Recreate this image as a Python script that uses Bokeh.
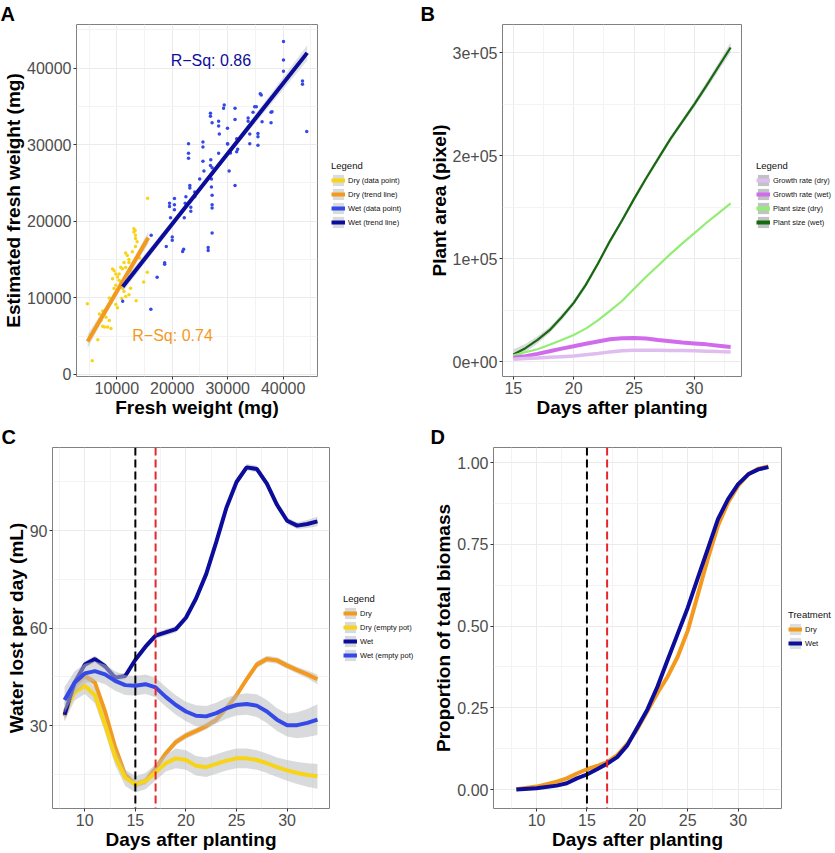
import math
from bokeh.plotting import figure
from bokeh.models import Range1d, FixedTicker, Legend, LegendItem, Span, Title
from bokeh.layouts import column, row
from bokeh.embed import file_html
from bokeh.resources import INLINE
from bokeh.core.properties import value

FONT = "Liberation Sans"
NAN = float("nan")

# ---------------- Panel A data ----------------
dry_pt_x = [4681, 5567, 6572, 15555, 13073, 13073, 13369, 13369, 13664, 13369,
            11596, 11891, 12187, 11300, 11596, 9232, 9527, 9823, 10118, 10414, 9232,
            10709, 11005, 11300, 11596, 12187, 12482, 8641, 8936, 8345, 9823, 10118,
            7458, 7754, 8050, 6867, 7163, 8641, 8345, 8936, 7754, 7458,
            13485, 14551, 14846, 12482, 12187, 10414, 9823, 10709, 15500, 13300,
            11000, 12800, 14100, 9500, 10900, 11900]
dry_pt_y = [9210, 1769, 4500, 22997, 19004, 18584, 18163, 17743, 17322, 16692,
            15851, 15515, 15011, 14590, 13960, 13749, 13539, 13118, 12698, 12278, 12488,
            12067, 11227, 10806, 10176, 10386, 11227, 9966, 9335, 8705, 9125, 8705,
            8284, 7864, 7443, 7864, 7023, 7023, 6182, 5972, 6182, 6266,
            9620, 16271, 12067, 13539, 14590, 13118, 11647, 14000, 13320, 18780,
            13800, 16000, 15200, 11200, 9900, 12900]
wet_pt_x = [40066, 40066, 40066, 43493, 43493, 44261, 35873, 36050, 37822, 37822,
            35460, 35460, 35460, 33983, 33983, 33688, 33688, 34870, 35165, 34575,
            31325, 31325, 31620, 31620, 31325, 29966, 29966, 30261, 29257, 29375,
            28370, 28370, 28488, 26894, 26894, 27190, 28370, 26953, 26894, 27190,
            27072, 27072, 27190, 27190, 27190, 27190, 26480, 26480, 25536, 25536,
            25536, 25713, 24946, 24060, 24060, 23174, 23174, 23351, 23351, 22936,
            22936, 22936, 22344, 22462, 22168, 21873, 22050, 20396, 20396, 20396,
            19510, 19510, 19690, 20000, 20000, 18920, 18630, 18630, 17270, 16200,
            16143, 11063, 30000, 30500, 31800, 36200, 38000]
wet_pt_y = [43491, 41050, 39580, 38320, 37900, 31725, 36640, 36500, 34246, 32860,
            31470, 31050, 29920, 30130, 31390, 33490, 33070, 34960, 34960, 34250,
            34750, 33280, 29080, 30760, 24670, 32145, 30130, 26560, 34750, 35170,
            33070, 32440, 31390, 34120, 33700, 32860, 28870, 28030, 27270, 26980,
            25510, 24460, 23400, 22140, 21720, 18450, 16560, 16180, 29710, 30340,
            27820, 26560, 25510, 23830, 23200, 24670, 24330, 21810, 21300, 30130,
            28870, 28240, 22350, 23200, 20460, 16050, 16340, 22980, 22140, 21510,
            22350, 21930, 20460, 17940, 17520, 16680, 14580, 14370, 12690, 18150,
            8490, 9540, 30100, 28900, 29400, 33000, 34300]
dry_fit_x = [4734, 10204, 15674]
dry_fit_y = [4288, 11060, 17831]
dry_fit_se = [900, 300, 800]
wet_fit_x = [11064, 27704, 44344]
wet_fit_y = [11438, 26716, 41993]
wet_fit_se = [700, 250, 1000]
a_xticks = [10000, 20000, 30000, 40000]
a_yticks = [0, 10000, 20000, 30000, 40000]
a_labels = ["Dry (data point)", "Dry (trend line)", "Wet (data point)", "Wet (trend line)"]

# ---------------- Panel B data ----------------
b_days = list(range(15, 34))
b_size_wet = [6900, 13000, 21000, 30500, 43000, 57000, 74500, 95000, 117000, 137000,
              158000, 178000, 197000, 216000, 233000, 250000, 268000, 286500, 305000]
b_size_dry = [6000, 9000, 12000, 16300, 21000, 25800, 32000, 40000, 49300, 58800,
              70700, 82300, 93300, 104300, 114700, 124700, 134800, 144200, 153600]
b_rate_wet = [3800, 5300, 7500, 10000, 12600, 14800, 17300, 19500, 21700, 22600,
              22900, 22300, 21000, 19800, 18500, 17600, 16700, 15400, 14100]
b_rate_dry = [2200, 2900, 3500, 4100, 4700, 5300, 6600, 7900, 9400, 10400,
              11000, 11000, 11000, 10700, 10700, 10400, 10100, 9700, 9400]
b_size_wet_se = [5000, 4000, 3500, 3000, 3000, 2500, 2500, 2500, 2500, 2500,
                 2500, 2500, 2500, 2500, 2500, 3000, 3500, 4000, 5000]
b_xticks = [15, 20, 25, 30]
b_yticks = [0, 100000, 200000, 300000]
b_ytick_labels = ["0e+00", "1e+05", "2e+05", "3e+05"]
b_labels = ["Growth rate (dry)", "Growth rate (wet)", "Plant size (dry)", "Plant size (wet)"]

# ---------------- Panel C data ----------------
c_days = list(range(8, 34))
c_dry = [32.9, 42.3, 45.3, 43.3, 34.4, 23.5, 15.0, 12.0, 13.0, 17.0, 21.5, 25.0, 27.0,
         28.4, 29.9, 31.9, 35.4, 39.4, 44.3, 48.8, 50.5, 50.1, 48.5, 47.1, 45.8, 44.3]
c_dry_se = [1.5, 1.2, 1, 1, 1, 1, 1, 1, 1, 1, 1, 1, 1, 1, 1, 1, 1, 1, 1, 1, 1, 1, 1, 1, 1.2, 1.5]
c_dry_empty = [34.4, 40.3, 42.3, 39.4, 30.4, 20.5, 14.0, 12.0, 13.0, 15.7, 18.5, 20.0, 19.5,
               17.7, 17.3, 18.3, 19.3, 20.0, 20.0, 19.5, 18.5, 17.3, 16.3, 15.5, 14.9, 14.5]
c_dry_empty_se = [3, 2.5, 2.5, 2.5, 2.5, 2.5, 2.5, 2.5, 2.5, 2.5, 2.5, 3, 3, 3, 3, 3,
                  3, 3, 3, 3, 3, 3, 3.2, 3.4, 3.6, 3.8]
c_wet = [33.4, 43.3, 48.8, 50.5, 48.3, 44.8, 45.3, 50.3, 54.3, 57.7, 58.7, 59.7, 63.2,
         69.1, 76.6, 86.5, 97.0, 104.9, 109.4, 108.9, 104.4, 97.9, 93.0, 91.5, 92.0, 92.8]
c_wet_se = [1.5, 1.2, 1, 1, 1, 1, 1, 1, 1, 1, 1, 1, 1, 1, 1, 1, 1, 1, 1, 1, 1, 1, 1, 1, 1.2, 1.5]
c_wet_empty = [37.9, 43.3, 46.1, 46.8, 45.8, 43.8, 42.5, 42.3, 42.8, 41.8, 38.9, 36.4, 34.4,
               33.1, 32.9, 33.9, 35.4, 36.4, 36.7, 36.2, 34.4, 31.9, 30.2, 30.2, 30.9, 31.9]
c_wet_empty_se = [4, 3.5, 3, 3, 3, 3, 3, 3, 3, 3, 3, 3, 3, 3.2, 3.2, 3.2, 3.2, 3.2,
                  3.3, 3.5, 3.5, 3.5, 3.5, 4, 4.3, 4.7]
c_xticks = [10, 15, 20, 25, 30]
c_yticks = [30, 60, 90]
c_labels = ["Dry", "Dry (empty pot)", "Wet", "Wet (empty pot)"]

# ---------------- Panel D data ----------------
d_days = [8, 10, 12, 13, 14, 15, 16, 17, 18, 19, 20, 21, 22, 23, 24, 25, 26, 27, 28, 29, 30, 31, 32, 33]
d_wet = [0.0, 0.004, 0.012, 0.019, 0.034, 0.046, 0.062, 0.079, 0.099, 0.135, 0.19, 0.245,
         0.315, 0.396, 0.476, 0.556, 0.647, 0.737, 0.827, 0.888, 0.934, 0.964, 0.979, 0.986]
d_dry = [0.001, 0.009, 0.024, 0.034, 0.049, 0.062, 0.072, 0.084, 0.105, 0.14, 0.185, 0.24,
         0.295, 0.345, 0.406, 0.486, 0.596, 0.707, 0.807, 0.878, 0.929, 0.964, 0.981, 0.988]
d_xticks = [10, 15, 20, 25, 30]
d_yticks = [0, 0.25, 0.5, 0.75, 1.0]
d_ytick_labels = ["0.00", "0.25", "0.50", "0.75", "1.00"]
d_labels = ["Dry", "Wet"]

# treatment markers
vline_days = [15, 17]

# ---------------- colours ----------------
GOLD = "#F7D417"
ORANGE = "#F39A1E"
BLUE = "#3548E8"
NAVY = "#0D0D9C"
RIB = "#B8BCC0"


def make_fig(W, H, xr, yr, bl, br, bt, bb):
    p = figure(width=W, height=H, x_range=Range1d(*xr), y_range=Range1d(*yr),
               output_backend="svg", toolbar_location=None,
               min_border_left=bl, min_border_right=br, min_border_top=bt,
               min_border_bottom=bb, background_fill_color="white",
               border_fill_color="white", outline_line_color="#808080",
               outline_line_width=1)
    return p


def style(p, xt, xminor, yt, yminor, xlabel, ylabel):
    xtk = FixedTicker(ticks=xt, minor_ticks=xminor)
    ytk = FixedTicker(ticks=yt, minor_ticks=yminor)
    p.xaxis.ticker = xtk
    p.yaxis.ticker = ytk
    p.xgrid.ticker = xtk
    p.ygrid.ticker = ytk
    for g in (p.xgrid, p.ygrid):
        g.grid_line_color = "#EBEBEB"
        g.grid_line_width = 1
        g.minor_grid_line_color = "#F3F3F3"
        g.minor_grid_line_width = 1
    p.xaxis.axis_label = xlabel
    p.yaxis.axis_label = ylabel
    for ax in (p.xaxis, p.yaxis):
        ax.axis_line_color = None
        ax.major_tick_line_color = "#333333"
        ax.major_tick_out = 3
        ax.major_tick_in = 0
        ax.minor_tick_line_color = None
        ax.major_label_text_font = FONT
        ax.major_label_text_font_size = "16px"
        ax.major_label_text_color = "#4D4D4D"
        ax.major_label_standoff = 1
        ax.axis_label_text_font = FONT
        ax.axis_label_text_font_style = "bold"
        ax.axis_label_text_font_size = "19px"
        ax.axis_label_text_color = "black"
        ax.axis_label_standoff = 0


def letter(p, txt, offset):
    p.title = Title(text=txt, align="left", offset=offset, standoff=0,
                    text_font=FONT, text_font_style="bold", text_font_size="20px",
                    text_color="black")


def legend_fig(W, H, title, labels, colors, bg, vx, vy):
    f = figure(width=W, height=H, x_range=Range1d(0, 1), y_range=Range1d(0, 1),
               output_backend="svg", toolbar_location=None,
               x_axis_type=None, y_axis_type=None,
               min_border_left=0, min_border_right=0, min_border_top=0,
               min_border_bottom=0, outline_line_color=None,
               background_fill_color="white", border_fill_color="white")
    f.grid.visible = False
    items = []
    for l, c in zip(labels, colors):
        r1 = f.varea(x=[NAN, NAN], y1=[NAN, NAN], y2=[NAN, NAN], fill_color=bg, fill_alpha=1)
        r2 = f.line(x=[NAN, NAN], y=[NAN, NAN], line_color=c, line_width=4)
        items.append(LegendItem(label=l, renderers=[r1, r2]))
    lg = Legend(items=items, location=(vx, vy), title=title,
                title_text_font=FONT, title_text_font_size="9.5px", title_text_color="#111111",
                title_text_font_style="normal", title_standoff=2,
                label_text_font=FONT, label_text_font_size="7.5px", label_text_color="#111111",
                glyph_width=14, glyph_height=14, label_height=14, label_standoff=3,
                spacing=0, padding=0, margin=0,
                background_fill_alpha=0, border_line_alpha=0)
    f.add_layout(lg)
    return f


def band(x, y, se):
    lo = [a - b for a, b in zip(y, se)]
    hi = [a + b for a, b in zip(y, se)]
    return lo, hi


# ---------------- Panel A ----------------
pA = make_fig(319, 420, (2730, 46200), (-290, 45700), 72, 2, 13, 42)
letter(pA, "A", -76)
style(pA, a_xticks, [5000, 15000, 25000, 35000, 45000], a_yticks,
      [5000, 15000, 25000, 35000, 45000], "Fresh weight (mg)", "Estimated fresh weight (mg)")
pA.scatter(dry_pt_x, dry_pt_y, size=3.5, color=GOLD, line_color=None)
pA.scatter(wet_pt_x, wet_pt_y, size=3.5, color=BLUE, line_color=None)
lo, hi = band(dry_fit_x, dry_fit_y, dry_fit_se)
pA.varea(x=dry_fit_x, y1=lo, y2=hi, fill_color=RIB, fill_alpha=0.45)
pA.line(dry_fit_x, dry_fit_y, line_color=ORANGE, line_width=4)
lo, hi = band(wet_fit_x, wet_fit_y, wet_fit_se)
pA.varea(x=wet_fit_x, y1=lo, y2=hi, fill_color=RIB, fill_alpha=0.45)
pA.line(wet_fit_x, wet_fit_y, line_color=NAVY, line_width=4)
pA.text(x=[26968], y=[40946], text=["R\u2212Sq: 0.86"], text_font=value(FONT),
        text_font_size="16px", text_color=NAVY, text_align="center", text_baseline="middle")
pA.text(x=[20053], y=[5006], text=["R\u2212Sq: 0.74"], text_font=value(FONT),
        text_font_size="16px", text_color=ORANGE, text_align="center", text_baseline="middle")
lA = legend_fig(96, 420, "Legend", a_labels, [GOLD, ORANGE, BLUE, NAVY], "#DADBDB", 12, 147)

# ---------------- Panel B ----------------
pB = make_fig(328, 420, (14.1, 33.9), (-14500, 327300), 87, 2, 15, 42)
letter(pB, "B", -82)
style(pB, b_xticks, [17.5, 22.5, 27.5, 32.5], b_yticks, [50000, 150000, 250000],
      "Days after planting", "Plant area (pixel)")
pB.yaxis.major_label_overrides = {float(t): l for t, l in zip(b_yticks, b_ytick_labels)}
lo, hi = band(b_days, b_size_wet, b_size_wet_se)
pB.varea(x=b_days, y1=lo, y2=hi, fill_color=RIB, fill_alpha=0.55)
pB.line(b_days, b_size_wet, line_color="#17690F", line_width=2.2)
pB.line(b_days, b_size_dry, line_color="#92EE72", line_width=2.2)
pB.line(b_days, b_rate_wet, line_color="#D06CEC", line_width=4)
pB.line(b_days, b_rate_dry, line_color="#DFBDEE", line_width=3.5)
lB = legend_fig(91, 420, "Legend", b_labels, ["#DFBDEE", "#D06CEC", "#92EE72", "#17690F"],
                "#BFC3C3", 13, 147)

# ---------------- Panel C ----------------
pC = make_fig(331, 432, (6.81, 34.19), (4.6, 115.5), 52, 2, 21, 39)
letter(pC, "C", -51)
style(pC, c_xticks, [7.5, 12.5, 17.5, 22.5, 27.5, 32.5], c_yticks, [15, 45, 75, 105],
      "Days after planting", "Water lost per day (mL)")
for ys, se, col in ((c_dry, c_dry_se, ORANGE), (c_dry_empty, c_dry_empty_se, GOLD),
                    (c_wet, c_wet_se, NAVY), (c_wet_empty, c_wet_empty_se, BLUE)):
    lo, hi = band(c_days, ys, se)
    pC.varea(x=c_days, y1=lo, y2=hi, fill_color=RIB, fill_alpha=0.55)
    pC.line(c_days, ys, line_color=col, line_width=4)
pC.add_layout(Span(location=vline_days[0], dimension="height", line_color="black",
                   line_dash="8 4", line_width=2))
pC.add_layout(Span(location=vline_days[1], dimension="height", line_color="#E8262A",
                   line_dash="8 4", line_width=2))
lC = legend_fig(84, 432, "Legend", c_labels, [ORANGE, GOLD, NAVY, BLUE], "#D8DADC", 12, 146)

# ---------------- Panel D ----------------
pD = make_fig(368, 432, (5.73, 34.3), (-0.058, 1.046), 78, 2, 27, 38)
letter(pD, "D", -63)
style(pD, d_xticks, [7.5, 12.5, 17.5, 22.5, 27.5, 32.5], d_yticks,
      [0.125, 0.375, 0.625, 0.875], "Days after planting", "Proportion of total biomass")
pD.yaxis.major_label_overrides = {float(t): l for t, l in zip(d_yticks, d_ytick_labels)}
pD.line(d_days, d_dry, line_color=ORANGE, line_width=4)
pD.line(d_days, d_wet, line_color=NAVY, line_width=4)
pD.add_layout(Span(location=vline_days[0], dimension="height", line_color="black",
                   line_dash="8 4", line_width=2))
pD.add_layout(Span(location=vline_days[1], dimension="height", line_color="#E8262A",
                   line_dash="8 4", line_width=2))
lD = legend_fig(51, 432, "Treatment", d_labels, [ORANGE, NAVY], "#DCDEE0", 5, 158)

layout = column(row(pA, lA, pB, lB), row(pC, lC, pD, lD))
open("out.html", "w").write(file_html(layout, INLINE))
